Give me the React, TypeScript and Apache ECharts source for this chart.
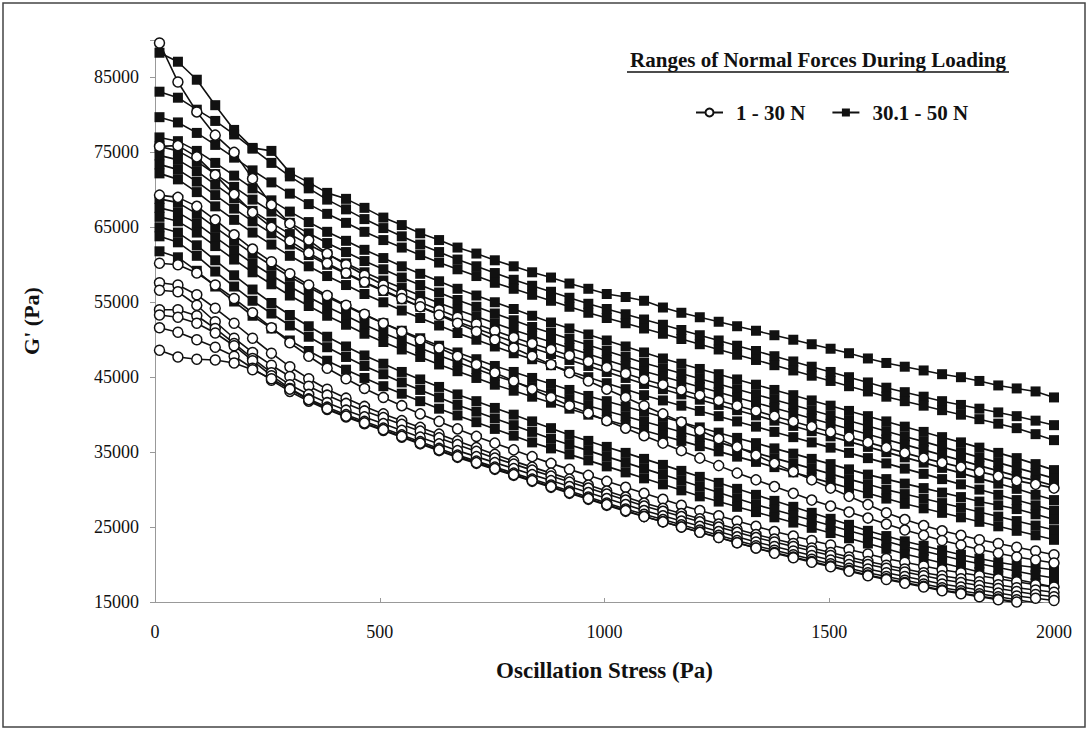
import React, { useEffect, useRef } from "react";
import * as echarts from "echarts";

// Oscillation stress (Pa) at each measured point
const stress = [10, 51, 93, 134, 176, 217, 259, 300, 342, 383, 425, 466, 508, 549, 590, 632, 673, 715, 756, 798, 839, 881, 922, 964, 1005, 1047, 1088, 1130, 1171, 1212, 1254, 1295, 1337, 1378, 1420, 1461, 1503, 1544, 1586, 1627, 1668, 1710, 1751, 1793, 1834, 1876, 1917, 1959, 2000];

// G' (kPa) – samples loaded with normal force 1 - 30 N (open circles)
const low1 = [89.6, 84.4, 80.4, 77.3, 75.0, 71.5, 68.0, 65.5, 63.3, 61.5, 60.0, 58.6, 57.3, 56.1, 55.0, 54.0, 53.0, 52.1, 51.2, 50.3, 49.5, 48.7, 47.9, 47.1, 46.3, 45.5, 44.7, 44.0, 43.3, 42.6, 41.9, 41.2, 40.5, 39.8, 39.1, 38.4, 37.7, 37.0, 36.3, 35.6, 34.9, 34.2, 33.6, 33.0, 32.4, 31.8, 31.2, 30.7, 30.2];
const low2 = [75.8, 75.9, 74.4, 72.0, 69.4, 67.0, 65.0, 63.2, 61.6, 60.2, 58.9, 57.7, 56.6, 55.5, 54.4, 53.3, 52.2, 51.1, 50.0, 48.9, 47.8, 46.7, 45.6, 44.5, 43.4, 42.3, 41.2, 40.1, 39.0, 37.9, 36.8, 35.7, 34.6, 33.5, 32.4, 31.3, 30.2, 29.1, 28.0, 26.9, 26.0, 25.2, 24.5, 23.9, 23.3, 22.8, 22.3, 21.8, 21.3];
const low3 = [69.3, 69.0, 67.8, 66.0, 64.0, 62.1, 60.4, 58.8, 57.3, 55.9, 54.6, 53.4, 52.2, 51.1, 50.0, 48.9, 47.8, 46.7, 45.6, 44.5, 43.4, 42.3, 41.2, 40.2, 39.2, 38.2, 37.2, 36.2, 35.2, 34.2, 33.2, 32.2, 31.3, 30.4, 29.5, 28.6, 27.8, 27.0, 26.2, 25.4, 24.6, 23.9, 23.2, 22.6, 22.0, 21.5, 21.0, 20.6, 20.2];
const low4 = [60.2, 60.0, 58.9, 57.3, 55.5, 53.6, 51.6, 49.6, 47.8, 46.2, 44.8, 43.5, 42.3, 41.2, 40.1, 39.1, 38.1, 37.1, 36.2, 35.3, 34.4, 33.5, 32.7, 31.9, 31.1, 30.3, 29.5, 28.7, 27.9, 27.2, 26.5, 25.8, 25.1, 24.4, 23.8, 23.2, 22.6, 22.0, 21.4, 20.8, 20.3, 19.8, 19.3, 18.9, 18.5, 18.1, 17.7, 17.3, 17.0];
const low5 = [57.6, 57.3, 56.0, 54.2, 52.2, 50.2, 48.2, 46.4, 44.8, 43.4, 42.2, 41.1, 40.1, 39.2, 38.3, 37.4, 36.5, 35.6, 34.7, 33.8, 33.0, 32.2, 31.4, 30.6, 29.8, 29.0, 28.2, 27.5, 26.8, 26.1, 25.4, 24.7, 24.0, 23.4, 22.8, 22.2, 21.6, 21.0, 20.4, 19.9, 19.4, 18.9, 18.5, 18.1, 17.7, 17.3, 16.9, 16.6, 16.3];
const low6 = [56.6, 56.4, 54.6, 52.4, 50.2, 48.3, 46.6, 45.1, 43.8, 42.6, 41.5, 40.5, 39.6, 38.7, 37.8, 36.9, 36.0, 35.1, 34.2, 33.4, 32.6, 31.8, 31.0, 30.2, 29.4, 28.6, 27.8, 27.1, 26.4, 25.7, 25.0, 24.3, 23.6, 23.0, 22.4, 21.8, 21.2, 20.6, 20.0, 19.5, 19.0, 18.5, 18.0, 17.6, 17.2, 16.8, 16.4, 16.0, 15.7];
const low7 = [54.0, 54.0, 53.2, 51.5, 49.5, 47.5, 45.6, 44.0, 42.7, 41.6, 40.6, 39.7, 38.8, 37.9, 37.0, 36.1, 35.2, 34.4, 33.6, 32.8, 32.0, 31.2, 30.4, 29.6, 28.8, 28.0, 27.2, 26.5, 25.8, 25.1, 24.4, 23.7, 23.0, 22.4, 21.8, 21.2, 20.6, 20.0, 19.4, 18.9, 18.4, 17.9, 17.4, 17.0, 16.6, 16.2, 15.8, 15.5, 15.2];
const low8 = [53.3, 53.0, 52.2, 50.9, 49.2, 47.2, 45.2, 43.5, 42.1, 41.0, 40.0, 39.1, 38.2, 37.3, 36.4, 35.5, 34.6, 33.8, 33.0, 32.2, 31.4, 30.6, 29.8, 29.0, 28.2, 27.4, 26.7, 26.0, 25.3, 24.6, 23.9, 23.2, 22.5, 21.9, 21.3, 20.7, 20.1, 19.5, 18.9, 18.4, 17.9, 17.4, 16.9, 16.5, 16.1, 15.7, 15.3, 14.9, 14.6];
const low9 = [51.6, 51.0, 50.0, 49.0, 47.8, 46.2, 44.6, 43.1, 41.8, 40.7, 39.7, 38.8, 37.9, 37.0, 36.1, 35.2, 34.3, 33.5, 32.7, 31.9, 31.1, 30.3, 29.5, 28.7, 27.9, 27.1, 26.4, 25.7, 25.0, 24.3, 23.6, 22.9, 22.2, 21.6, 21.0, 20.4, 19.8, 19.2, 18.6, 18.1, 17.6, 17.1, 16.6, 16.2, 15.8, 15.4, 15.0, 14.6, 14.2];
const low10 = [48.6, 47.7, 47.4, 47.3, 46.9, 46.0, 44.8, 43.4, 42.0, 40.8, 39.8, 38.9, 38.0, 37.1, 36.2, 35.3, 34.4, 33.6, 32.8, 32.0, 31.2, 30.4, 29.6, 28.8, 28.0, 27.2, 26.4, 25.7, 25.0, 24.3, 23.6, 22.9, 22.2, 21.5, 20.9, 20.3, 19.7, 19.1, 18.5, 18.0, 17.5, 17.0, 16.5, 16.1, 15.7, 15.3, 14.9, 14.5, 14.0];

// G' (kPa) – samples loaded with normal force 30.1 - 50 N (filled squares)
const high1 = [88.3, 87.1, 84.7, 81.3, 78.0, 75.6, 75.2, 72.3, 71.0, 69.6, 68.8, 67.6, 66.3, 65.3, 64.2, 63.3, 62.3, 61.5, 60.6, 59.8, 59.0, 58.3, 57.5, 56.8, 56.1, 55.7, 55.2, 54.3, 53.6, 53.0, 52.4, 51.8, 51.2, 50.6, 50.0, 49.4, 48.8, 48.2, 47.5, 46.9, 46.4, 45.9, 45.4, 45.0, 44.5, 43.9, 43.5, 43.1, 42.3];
const high2 = [83.1, 82.3, 80.7, 79.2, 77.4, 75.5, 73.6, 71.8, 70.2, 68.7, 67.4, 66.1, 64.9, 63.8, 62.7, 61.7, 60.7, 59.8, 58.9, 58.0, 57.2, 56.4, 55.6, 54.8, 54.1, 53.4, 52.7, 52.0, 51.3, 50.6, 49.9, 49.2, 48.5, 47.8, 47.1, 46.4, 45.7, 45.0, 44.3, 43.6, 43.0, 42.4, 41.8, 41.3, 40.8, 40.3, 39.8, 39.2, 38.6];
const high3 = [79.7, 79.0, 77.6, 76.0, 74.3, 72.6, 71.0, 69.5, 68.1, 66.8, 65.6, 64.4, 63.3, 62.3, 61.3, 60.3, 59.4, 58.5, 57.6, 56.8, 56.0, 55.2, 54.4, 53.6, 52.9, 52.2, 51.5, 50.8, 50.1, 49.4, 48.7, 48.0, 47.3, 46.6, 45.9, 45.2, 44.5, 43.8, 43.1, 42.4, 41.8, 41.2, 40.6, 40.0, 39.4, 38.8, 38.2, 37.4, 36.6];
const high4 = [77.0, 76.5, 75.2, 73.6, 71.9, 70.2, 68.6, 67.1, 65.7, 64.4, 63.2, 62.0, 60.9, 59.8, 58.8, 57.8, 56.8, 55.9, 55.0, 54.1, 53.2, 52.3, 51.5, 50.7, 49.9, 49.1, 48.3, 47.5, 46.8, 46.1, 45.4, 44.7, 44.0, 43.3, 42.6, 41.9, 41.2, 40.5, 39.8, 39.1, 38.4, 37.7, 37.0, 36.3, 35.6, 34.9, 34.2, 33.4, 32.6];
const high5 = [75.8, 75.2, 73.8, 72.1, 70.4, 68.7, 67.1, 65.6, 64.2, 62.9, 61.7, 60.5, 59.4, 58.3, 57.3, 56.3, 55.3, 54.4, 53.5, 52.6, 51.7, 50.9, 50.1, 49.3, 48.5, 47.7, 46.9, 46.2, 45.5, 44.8, 44.1, 43.4, 42.7, 42.0, 41.3, 40.6, 39.9, 39.2, 38.5, 37.8, 37.1, 36.4, 35.7, 35.0, 34.3, 33.6, 32.9, 32.2, 31.5];
const high6 = [74.6, 74.0, 72.5, 70.7, 68.9, 67.2, 65.6, 64.1, 62.7, 61.4, 60.2, 59.0, 57.9, 56.9, 55.9, 54.9, 54.0, 53.1, 52.2, 51.3, 50.5, 49.7, 48.9, 48.1, 47.3, 46.5, 45.8, 45.1, 44.4, 43.7, 43.0, 42.3, 41.6, 40.9, 40.2, 39.5, 38.8, 38.1, 37.4, 36.7, 36.0, 35.3, 34.6, 33.9, 33.2, 32.5, 31.8, 31.2, 30.5];
const high7 = [73.4, 72.7, 71.1, 69.3, 67.5, 65.8, 64.2, 62.7, 61.3, 60.0, 58.8, 57.6, 56.5, 55.4, 54.4, 53.4, 52.4, 51.5, 50.6, 49.7, 48.9, 48.1, 47.3, 46.5, 45.7, 44.9, 44.1, 43.4, 42.7, 42.0, 41.3, 40.6, 39.9, 39.2, 38.5, 37.8, 37.1, 36.4, 35.7, 35.0, 34.3, 33.6, 32.9, 32.2, 31.5, 30.8, 30.1, 29.3, 28.6];
const high8 = [72.2, 71.4, 69.7, 67.8, 66.0, 64.3, 62.7, 61.2, 59.8, 58.5, 57.3, 56.1, 55.0, 53.9, 52.9, 51.9, 50.9, 50.0, 49.1, 48.2, 47.4, 46.6, 45.8, 45.0, 44.2, 43.4, 42.6, 41.9, 41.2, 40.5, 39.8, 39.1, 38.4, 37.7, 37.0, 36.3, 35.6, 34.9, 34.2, 33.5, 32.8, 32.1, 31.4, 30.7, 30.0, 29.3, 28.6, 27.9, 27.2];
const high9 = [68.8, 68.3, 66.8, 65.0, 63.2, 61.5, 59.9, 58.4, 57.0, 55.7, 54.5, 53.3, 52.2, 51.2, 50.2, 49.2, 48.3, 47.4, 46.5, 45.7, 44.9, 44.1, 43.3, 42.5, 41.8, 41.1, 40.4, 39.7, 39.0, 38.3, 37.6, 36.9, 36.2, 35.5, 34.8, 34.1, 33.4, 32.7, 32.0, 31.4, 30.8, 30.2, 29.6, 29.0, 28.4, 27.9, 27.4, 26.7, 26.0];
const high10 = [67.6, 67.0, 65.5, 63.7, 61.9, 60.2, 58.6, 57.1, 55.7, 54.4, 53.2, 52.0, 50.9, 49.9, 48.9, 47.9, 47.0, 46.1, 45.2, 44.4, 43.6, 42.8, 42.0, 41.2, 40.5, 39.8, 39.1, 38.4, 37.7, 37.0, 36.3, 35.6, 34.9, 34.2, 33.5, 32.8, 32.1, 31.4, 30.7, 30.0, 29.4, 28.8, 28.2, 27.6, 27.0, 26.4, 25.8, 25.2, 24.6];
const high11 = [66.4, 65.8, 64.3, 62.5, 60.7, 59.0, 57.4, 55.9, 54.5, 53.2, 52.0, 50.8, 49.7, 48.7, 47.7, 46.7, 45.8, 44.9, 44.0, 43.2, 42.4, 41.6, 40.8, 40.0, 39.3, 38.6, 37.9, 37.2, 36.5, 35.8, 35.1, 34.4, 33.7, 33.0, 32.3, 31.6, 30.9, 30.2, 29.5, 28.8, 28.1, 27.5, 26.9, 26.3, 25.7, 25.1, 24.5, 23.9, 23.3];
const high12 = [65.0, 64.3, 62.6, 60.6, 58.6, 56.7, 54.9, 53.3, 51.8, 50.4, 49.1, 47.9, 46.8, 45.7, 44.7, 43.7, 42.7, 41.8, 40.9, 40.0, 39.1, 38.2, 37.3, 36.5, 35.7, 34.9, 34.1, 33.3, 32.5, 31.7, 30.9, 30.1, 29.3, 28.5, 27.7, 26.9, 26.1, 25.3, 24.5, 23.8, 23.1, 22.5, 21.9, 21.3, 20.8, 20.3, 19.9, 19.6, 19.3];
const high13 = [63.8, 63.0, 61.2, 59.1, 57.1, 55.2, 53.5, 51.9, 50.4, 49.0, 47.7, 46.5, 45.4, 44.3, 43.3, 42.3, 41.3, 40.4, 39.5, 38.6, 37.7, 36.8, 36.0, 35.2, 34.4, 33.6, 32.8, 32.0, 31.2, 30.4, 29.6, 28.8, 28.0, 27.3, 26.6, 25.9, 25.2, 24.5, 23.8, 23.1, 22.4, 21.8, 21.2, 20.6, 20.1, 19.6, 19.1, 18.6, 18.2];
const high14 = [61.8, 61.0, 59.2, 57.1, 55.1, 53.2, 51.5, 49.9, 48.5, 47.2, 46.0, 44.9, 43.8, 42.8, 41.8, 40.8, 39.9, 39.0, 38.1, 37.2, 36.3, 35.5, 34.7, 33.9, 33.1, 32.3, 31.5, 30.7, 29.9, 29.1, 28.4, 27.7, 27.0, 26.3, 25.6, 24.9, 24.2, 23.5, 22.8, 22.1, 21.4, 20.8, 20.2, 19.6, 19.0, 18.5, 18.0, 17.5, 17.0];

const lowSeries = [low1, low2, low3, low4, low5, low6, low7, low8, low9, low10];
const highSeries = [high1, high2, high3, high4, high5, high6, high7, high8, high9, high10, high11, high12, high13, high14];

const lowName = "1 - 30 N";
const highName = "30.1 - 50 N";
const legendTitle = "Ranges of Normal Forces During Loading";
const xTitle = "Oscillation Stress (Pa)";
const yTitle = "G' (Pa)";

export default function App() {
  const ref = useRef<HTMLDivElement>(null);

  useEffect(() => {
    if (!ref.current) return;
    const chart = echarts.init(ref.current, null, { renderer: "svg" });
    const font = "'Liberation Serif', 'Times New Roman', serif";
    const ink = "#111";
    const toPairs = (vals: number[]) => vals.map((v, i) => [stress[i], Math.round(v * 1000)]);

    const squares = highSeries.map((vals) => ({
      name: highName,
      type: "line",
      data: toPairs(vals),
      symbol: "rect",
      symbolSize: 10,
      showAllSymbol: true,
      lineStyle: { color: ink, width: 1.6 },
      itemStyle: { color: ink, borderColor: ink, borderWidth: 0 },
      z: 2,
    }));
    const circles = lowSeries.map((vals) => ({
      name: lowName,
      type: "line",
      data: toPairs(vals),
      symbol: "circle",
      symbolSize: 10,
      showAllSymbol: true,
      lineStyle: { color: ink, width: 1.6 },
      itemStyle: { color: "#fff", borderColor: ink, borderWidth: 1.5 },
      z: 3,
    }));

    chart.setOption({
      animation: false,
      backgroundColor: "#fff",
      grid: { left: 155, right: 35, top: 40, bottom: 129, containLabel: false },
      legend: {
        data: [lowName, highName],
        left: 690,
        top: 97,
        itemWidth: 27,
        itemHeight: 10,
        itemGap: 26,
        textStyle: {
          fontFamily: font,
          fontWeight: "bold",
          fontSize: 21,
          color: ink,
          padding: [0, 0, 0, 8],
        },
      },
      xAxis: {
        type: "value",
        min: 0,
        max: 2000,
        interval: 500,
        name: xTitle,
        nameLocation: "middle",
        nameGap: 57,
        nameTextStyle: { fontFamily: font, fontWeight: "bold", fontSize: 23, color: ink },
        axisLine: { show: true, onZero: false, lineStyle: { color: "#999", width: 1 } },
        axisTick: { show: true, inside: true, length: 4, lineStyle: { color: "#999" } },
        axisLabel: {
          fontFamily: font,
          fontSize: 18,
          color: ink,
          margin: 21,
          formatter: (v: number) => String(v),
        },
        splitLine: { show: false },
      },
      yAxis: {
        type: "value",
        min: 15000,
        max: 90000,
        interval: 10000,
        name: yTitle,
        nameLocation: "middle",
        nameGap: 113,
        nameTextStyle: { fontFamily: font, fontWeight: "bold", fontSize: 22, color: ink },
        axisLine: { show: true, onZero: false, lineStyle: { color: "#999", width: 1 } },
        axisTick: { show: true, length: 5, lineStyle: { color: "#999" } },
        axisLabel: {
          fontFamily: font,
          fontSize: 18,
          color: ink,
          margin: 16,
          formatter: (v: number) => (v === 90000 ? "" : String(v)),
        },
        splitLine: { show: false },
      },
      graphic: [
        {
          type: "rect",
          shape: { x: 3, y: 3, width: 1082, height: 724 },
          style: { fill: "none", stroke: "#444", lineWidth: 1.5 },
          silent: true,
        },
        {
          type: "text",
          x: 818,
          y: 60,
          style: {
            text: legendTitle,
            fontFamily: font,
            fontWeight: "bold",
            fontSize: 21,
            fill: ink,
            align: "center",
            verticalAlign: "middle",
          },
        },
        {
          type: "line",
          shape: { x1: 627, y1: 72, x2: 1009, y2: 72 },
          style: { stroke: ink, lineWidth: 1.5 },
        },
      ],
      series: [...squares, ...circles],
    });

    return () => chart.dispose();
  }, []);

  return (
    <div
      ref={ref}
      style={{ position: "fixed", left: 0, top: 0, width: 1089, height: 731, background: "#fff" }}
    />
  );
}
